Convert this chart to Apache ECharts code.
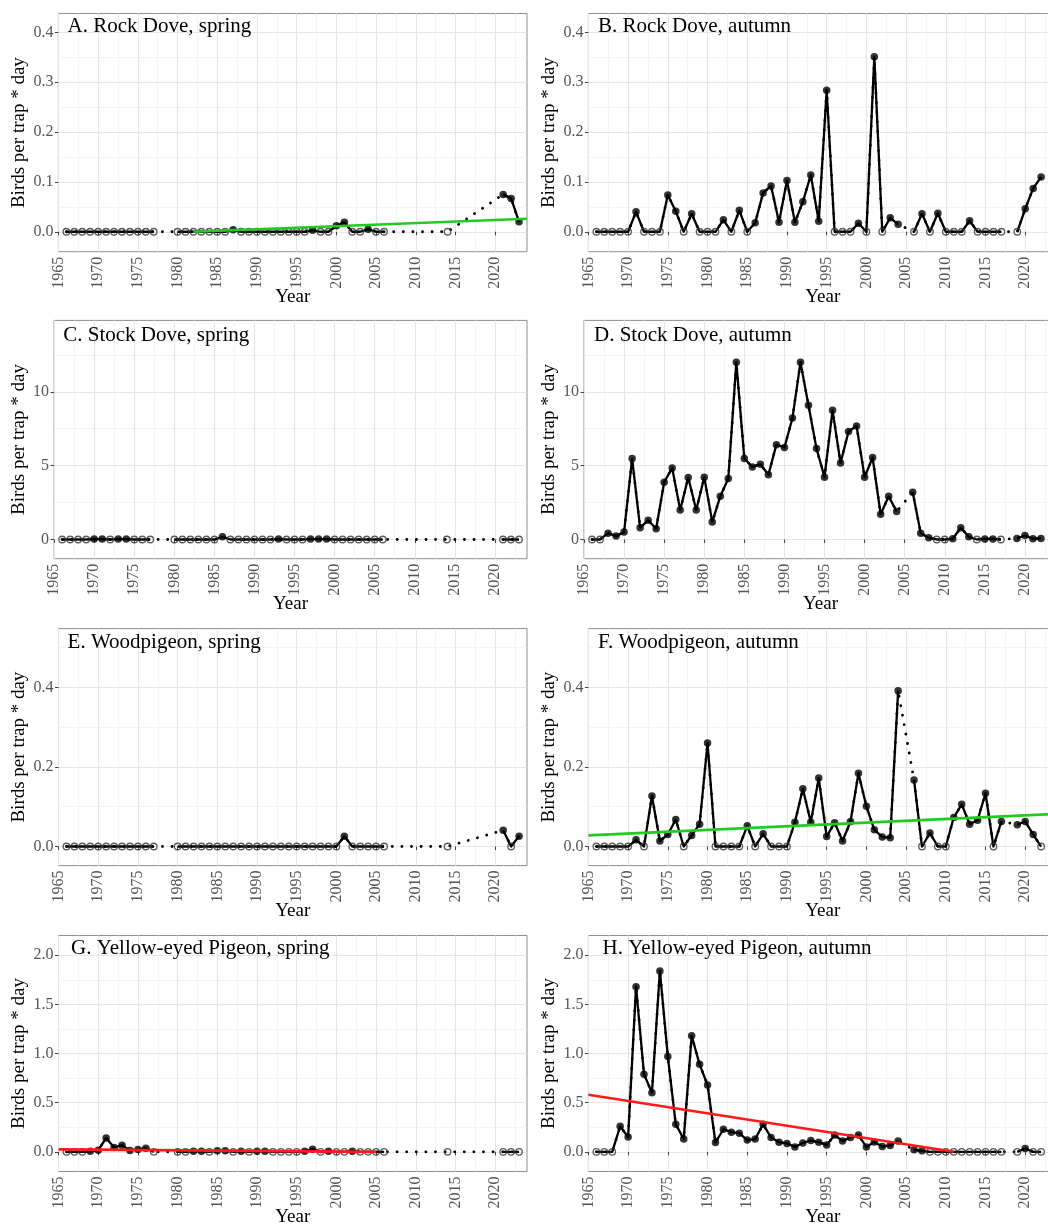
<!DOCTYPE html>
<html><head><meta charset="utf-8">
<script src="https://cdn.jsdelivr.net/npm/echarts@6/dist/echarts.min.js"></script>
<style>html,body{margin:0;padding:0;overflow:hidden;background:#fff}#chart{width:1058px;height:1226px}</style>
</head><body><div id="chart"></div>
<script>
// ---------------- DATA ----------------
const springYears = [1966,1967,1968,1969,1970,1971,1972,1973,1974,1975,1976,1977,
  1980,1981,1982,1983,1984,1985,1986,1987,1988,1989,1990,1991,1992,1993,1994,1995,1996,1997,1998,1999,2000,2001,2002,2003,2004,2005,2006,
  2014,2021,2022,2023];
const autumnYears = [1966,1967,1968,1969,1970,1971,1972,1973,1974,1975,1976,1977,1978,1979,1980,1981,1982,1983,1984,1985,
  1986,1987,1988,1989,1990,1991,1992,1993,1994,1995,1996,1997,1998,1999,2000,2001,2002,2003,2004,
  2006,2007,2008,2009,2010,2011,2012,2013,2014,2015,2016,2017,
  2019,2020,2021,2022];

const rockDoveSpring = [0,0,0,0,0,0,0,0,0,0,0,0,
  0,0,0,0,0,0,0,0.004,0,0,0,0,0,0,0,0,0,0.003,0,0,0.012,0.019,0,0,0.005,0,0,
  0,0.075,0.067,0.02];
const rockDoveAutumn = [0,0,0,0,0,0.040,0,0,0,0.074,0.041,0,0.036,0,0,0,0.024,0,0.043,0,
  0.018,0.078,0.092,0.019,0.103,0.019,0.060,0.114,0.021,0.284,0,0,0,0.017,0,0.351,0,0.028,0.015,
  0,0.036,0,0.037,0,0,0,0.022,0,0,0,0,
  0,0.046,0.087,0.110];
const stockDoveSpring = [0,0,0,0,0.03,0.03,0,0.03,0.03,0,0,0,
  0,0,0,0,0,0,0.18,0,0,0,0,0,0,0.03,0,0,0,0.03,0.03,0.03,0,0,0,0,0,0,0,
  0,0,0,0];
const stockDoveAutumn = [0,0,0.43,0.23,0.50,5.48,0.80,1.30,0.73,3.88,4.84,1.99,4.20,2.00,4.22,1.19,2.92,4.13,11.99,5.48,
  4.91,5.09,4.38,6.42,6.23,8.22,11.99,9.09,6.16,4.22,8.74,5.18,7.31,7.69,4.22,5.55,1.71,2.92,1.89,
  3.20,0.43,0.11,0,0,0.05,0.80,0.18,0,0.04,0.04,0,
  0.07,0.27,0.05,0.07];
const woodpigeonSpring = [0,0,0,0,0,0,0,0,0,0,0,0,
  0,0,0,0,0,0,0,0,0,0,0,0,0,0,0,0,0,0,0,0,0,0.026,0,0,0,0,0,
  0,0.041,0,0.026];
const woodpigeonAutumn = [0,0,0,0,0,0.017,0,0.127,0.014,0.030,0.068,0,0.028,0.056,0.260,0,0,0,0,0.052,
  0,0.032,0,0,0,0.061,0.145,0.061,0.172,0.025,0.060,0.014,0.063,0.184,0.101,0.042,0.024,0.022,0.392,
  0.167,0,0.034,0,0,0.073,0.106,0.056,0.066,0.134,0,0.063,
  0.055,0.063,0.030,0];
const yellowEyedSpring = [0,0,0,0.005,0.017,0.14,0.044,0.068,0.014,0.024,0.037,0,
  0,0,0.006,0.006,0,0.01,0.01,0,0.006,0,0.006,0.006,0,0,0,0,0.006,0.027,0,0.006,0,0,0.006,0,0,0,0,
  0,0,0,0];
const yellowEyedAutumn = [0,0,0,0.26,0.15,1.68,0.79,0.60,1.84,0.97,0.28,0.13,1.18,0.89,0.68,0.095,0.23,0.20,0.19,0.12,
  0.13,0.28,0.146,0.098,0.085,0.05,0.09,0.115,0.098,0.07,0.17,0.11,0.146,0.17,0.05,0.10,0.055,0.065,0.11,
  0.02,0.01,0,0,0,0,0,0,0,0,0,0,
  0,0.034,0,0];

// fitted trend lines (end points)
const rockDoveSpringTrend = [[1982, 0.0], [2024, 0.026]];
const woodpigeonAutumnTrend = [[1965, 0.028], [2024, 0.082]];
const yellowEyedSpringTrend = [[1965, 0.025], [2005, 0.0]];
const yellowEyedAutumnTrend = [[1965, 0.58], [2011, 0.0]];

// tick values
const yearTicks = [1965,1970,1975,1980,1985,1990,1995,2000,2005,2010,2015,2020];
const yearMinorTicks = [1967.5,1972.5,1977.5,1982.5,1987.5,1992.5,1997.5,2002.5,2007.5,2012.5,2017.5,2022.5];
const rockTicks = [0, 0.1, 0.2, 0.3, 0.4];
const rockMinorTicks = [0.05, 0.15, 0.25, 0.35];
const stockTicks = [0, 5, 10];
const stockMinorTicks = [2.5, 7.5, 12.5];
const woodTicks = [0, 0.2, 0.4];
const woodMinorTicks = [0.1, 0.3, 0.5];
const yellowTicks = [0, 0.5, 1.0, 1.5, 2.0];
const yellowMinorTicks = [0.25, 0.75, 1.25, 1.75];

// ---------------- STYLE / LAYOUT ----------------
const FONT = 'Liberation Serif';
const GREEN = '#1fcc1f', RED = '#ff1a1a';
const yScales = {
  rock:   {min: -0.04, max: 0.438, ticks: rockTicks, minor: rockMinorTicks, digits: 1},
  stock:  {min: -1.3, max: 14.83, ticks: stockTicks, minor: stockMinorTicks, digits: 0},
  wood:   {min: -0.048, max: 0.548, ticks: woodTicks, minor: woodMinorTicks, digits: 1},
  yellow: {min: -0.2, max: 2.2, ticks: yellowTicks, minor: yellowMinorTicks, digits: 1}
};
const panels = [
  {title:'A. Rock Dove, spring', years: springYears, vals: rockDoveSpring, trend: rockDoveSpringTrend, tc: GREEN, y:'rock', col:0, left:58.4, top:13.5, h:238.2, tx:67.5, ty:26.5},
  {title:'B. Rock Dove, autumn', years: autumnYears, vals: rockDoveAutumn, trend: null, y:'rock', col:1, left:588.4, top:13.5, h:238.2, tx:598, ty:26.5},
  {title:'C. Stock Dove, spring', years: springYears, vals: stockDoveSpring, trend: null, y:'stock', col:0, left:54.1, top:320.4, h:238.3, tx:63.2, ty:335},
  {title:'D. Stock Dove, autumn', years: autumnYears, vals: stockDoveAutumn, trend: null, y:'stock', col:1, left:584, top:320.4, h:238.3, tx:594, ty:335},
  {title:'E. Woodpigeon, spring', years: springYears, vals: woodpigeonSpring, trend: null, y:'wood', col:0, left:58.5, top:628.6, h:237, tx:67.6, ty:642.5},
  {title:'F. Woodpigeon, autumn', years: autumnYears, vals: woodpigeonAutumn, trend: woodpigeonAutumnTrend, tc: GREEN, y:'wood', col:1, left:588.4, top:628.6, h:237, tx:598, ty:642.5},
  {title:'G. Yellow-eyed Pigeon, spring', years: springYears, vals: yellowEyedSpring, trend: yellowEyedSpringTrend, tc: RED, y:'yellow', col:0, left:58.5, top:935.5, h:236, tx:71, ty:948.8},
  {title:'H. Yellow-eyed Pigeon, autumn', years: autumnYears, vals: yellowEyedAutumn, trend: yellowEyedAutumnTrend, tc: RED, y:'yellow', col:1, left:588.4, top:935.5, h:236, tx:602.5, ty:948.8}
];

const grid = [], xAxis = [], yAxis = [], series = [], title = [];
panels.forEach((p, i) => {
  const rightEdge = p.col ? 1057 : 527;
  const nameCenter = p.col ? 548.6 : 19;
  grid.push({left: p.left, top: p.top, width: rightEdge - p.left, height: p.h, show: true,
    borderColor: '#8f8f8f', borderWidth: 1, backgroundColor: 'transparent', containLabel: false, outerBoundsMode: 'none'});
  const ys = yScales[p.y];
  const gx = 2 * i;
  // major x axis
  xAxis.push({type: 'value', gridIndex: i, min: 1965, max: 2024,
    name: 'Year', nameLocation: 'middle', nameGap: 36, nameMoveOverlap: false,
    nameTextStyle: {fontFamily: FONT, fontSize: 19, color: '#000', verticalAlign: 'top'},
    axisLine: {show: false},
    axisTick: {show: true, length: 3.5, customValues: yearTicks, lineStyle: {color: '#444', width: 1}},
    axisLabel: {customValues: yearTicks, rotate: 90, margin: 5, fontFamily: FONT, fontSize: 16, color: '#555', formatter: v => String(v)},
    splitLine: {show: true, lineStyle: {color: '#e6e6e6', width: 1.2}}});
  // minor x axis (grid only)
  xAxis.push({type: 'value', gridIndex: i, min: 1965, max: 2024,
    axisLine: {show: false}, axisTick: {show: false, customValues: yearMinorTicks},
    axisLabel: {show: false, customValues: yearMinorTicks},
    splitLine: {show: true, lineStyle: {color: '#f1f1f1', width: 0.8}}});
  yAxis.push({type: 'value', gridIndex: i, min: ys.min, max: ys.max,
    name: 'Birds per trap * day', nameLocation: 'middle', nameGap: p.left - nameCenter - 9.5, nameMoveOverlap: false,
    nameTextStyle: {fontFamily: FONT, fontSize: 19, color: '#000'},
    axisLine: {show: false},
    axisTick: {show: true, length: 3.5, customValues: ys.ticks, lineStyle: {color: '#444', width: 1}},
    axisLabel: {customValues: ys.ticks, margin: 5, fontFamily: FONT, fontSize: 16, color: '#555', formatter: v => Number(v).toFixed(ys.digits)},
    splitLine: {show: true, lineStyle: {color: '#e6e6e6', width: 1.2}}});
  yAxis.push({type: 'value', gridIndex: i, min: ys.min, max: ys.max,
    axisLine: {show: false}, axisTick: {show: false, customValues: ys.minor},
    axisLabel: {show: false, customValues: ys.minor},
    splitLine: {show: true, lineStyle: {color: '#f1f1f1', width: 0.8}}});

  const all = p.years.map((yr, k) => [yr, p.vals[k]]);
  const solid = [];
  p.years.forEach((yr, k) => {
    if (k > 0 && yr - p.years[k - 1] > 1) solid.push([p.years[k - 1] + 1, null]);
    solid.push([yr, p.vals[k]]);
  });
  series.push({type: 'line', xAxisIndex: gx, yAxisIndex: gx, data: all, symbol: 'none', z: 2, silent: true,
    lineStyle: {color: '#000', width: 2.8, type: [0.1, 9.5], cap: 'round'}});
  series.push({type: 'line', xAxisIndex: gx, yAxisIndex: gx, data: solid, symbol: 'none', connectNulls: false, z: 3, silent: true,
    lineStyle: {color: '#000', width: 2.3, join: 'round'}});
  series.push({type: 'scatter', xAxisIndex: gx, yAxisIndex: gx, data: all.filter(d => d[1] === 0), z: 4, silent: true,
    symbol: 'circle', symbolSize: 6.5, itemStyle: {color: 'rgba(0,0,0,0)', borderColor: '#333', borderWidth: 1.3}});
  series.push({type: 'scatter', xAxisIndex: gx, yAxisIndex: gx, data: all.filter(d => d[1] > 0), z: 4, silent: true,
    symbol: 'circle', symbolSize: 7.5, itemStyle: {color: '#000'}});
  if (p.trend) {
    series.push({type: 'line', xAxisIndex: gx, yAxisIndex: gx, data: p.trend, symbol: 'none', z: 5, silent: true,
      lineStyle: {color: p.tc, width: 2.6}});
  }
  title.push({text: p.title, left: p.tx, top: p.ty - 11.5, padding: 0,
    textStyle: {fontFamily: FONT, fontSize: 21, fontWeight: 'normal', color: '#000', lineHeight: 23}});
});

const chart = echarts.init(document.getElementById('chart'), null, {renderer: 'canvas'});
chart.setOption({animation: false, backgroundColor: '#fff', title, grid, xAxis, yAxis, series, tooltip: {show: false}});
</script></body></html>
